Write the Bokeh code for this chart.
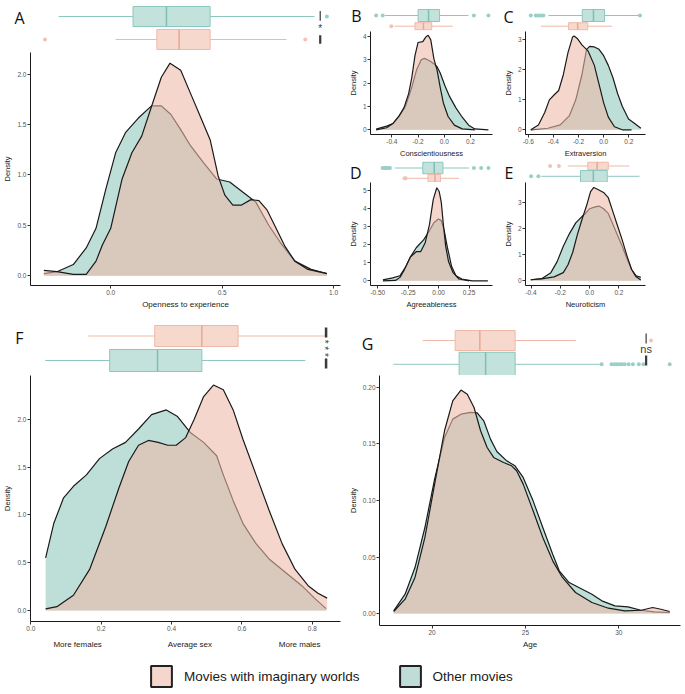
import numpy as np
from bokeh.plotting import figure
from bokeh.layouts import row, column
from bokeh.models import (Range1d, FixedTicker, PrintfTickFormatter,
                          LinearAxis, Legend, LegendItem, ColumnDataSource)
from bokeh.embed import file_html
from bokeh.resources import INLINE
from bokeh.core.properties import value

# ======================= DATA =======================
GROUP_LABELS = ["Movies with imaginary worlds", "Other movies"]

# ---- A: Openness to experience ----
A_pink_x = [-0.300, -0.241, -0.168, -0.110, -0.066, -0.037, 0.000, 0.051, 0.095, 0.139, 0.183, 0.227,
            0.266, 0.314, 0.358, 0.402, 0.446, 0.482, 0.512, 0.548, 0.585, 0.629, 0.665, 0.702,
            0.738, 0.782, 0.826, 0.885, 0.970]
A_pink_y = [0.052, 0.039, 0.013, 0.013, 0.144, 0.307, 0.47, 0.96, 1.22, 1.385, 1.68, 1.97,
            2.11, 2.04, 1.81, 1.58, 1.35, 0.99, 0.80, 0.70, 0.70, 0.755, 0.745, 0.65,
            0.487, 0.29, 0.144, 0.062, 0.02]
A_teal_x = [-0.300, -0.241, -0.168, -0.110, -0.066, -0.022, 0.022, 0.066, 0.124, 0.183, 0.227, 0.270,
            0.314, 0.358, 0.417, 0.475, 0.534, 0.592, 0.651, 0.709, 0.768, 0.826, 0.899, 0.970]
A_teal_y = [0.02, 0.039, 0.11, 0.275, 0.47, 0.86, 1.22, 1.42, 1.565, 1.686, 1.686, 1.60,
            1.45, 1.29, 1.12, 0.96, 0.93, 0.83, 0.73, 0.50, 0.307, 0.144, 0.062, 0.02]
A_pink_box = [0.022, 0.207, 0.307, 0.446, 0.789]     # lower whisker, Q1, median, Q3, upper whisker
A_pink_out = [-0.295, 0.873]
A_teal_box = [-0.234, 0.100, 0.250, 0.446, 0.914]
A_teal_out = [0.970]
A_sig = "*"
A_xticks = [0.0, 0.5, 1.0]
A_yticks = [0.0, 0.5, 1.0, 1.5, 2.0]

# ---- B: Conscientiousness ----
B_pink_x = [-0.520, -0.440, -0.392, -0.344, -0.308, -0.272, -0.248, -0.224, -0.200, -0.164, -0.140,
            -0.123, -0.103, -0.079, -0.055, -0.031, -0.007, 0.029, 0.077, 0.137, 0.233]
B_pink_y = [0.0, 0.09, 0.27, 0.61, 0.94, 1.55, 2.23, 3.17, 3.74, 3.78, 3.98,
            4.05, 3.85, 3.04, 2.56, 1.82, 1.15, 0.57, 0.20, 0.04, 0.0]
B_teal_x = [-0.520, -0.440, -0.392, -0.344, -0.296, -0.248, -0.212, -0.176, -0.152, -0.116, -0.079,
            -0.055, -0.031, 0.005, 0.041, 0.089, 0.137, 0.186, 0.233, 0.337]
B_teal_y = [0.03, 0.16, 0.27, 0.58, 1.01, 1.82, 2.56, 3.0, 3.06, 2.97, 2.83,
            2.70, 2.43, 1.89, 1.42, 0.94, 0.54, 0.20, 0.04, 0.0]
B_pink_box = [-0.380, -0.224, -0.159, -0.096, 0.065]
B_pink_out = [-0.404]
B_teal_box = [-0.453, -0.200, -0.120, -0.036, 0.185]
B_teal_out = [-0.520, -0.470, 0.226, 0.337]
B_xticks = [-0.4, -0.2, 0.0, 0.2]
B_yticks = [0, 1, 2, 3, 4]

# ---- C: Extraversion ----
C_pink_x = [-0.580, -0.519, -0.469, -0.432, -0.395, -0.358, -0.321, -0.284, -0.247, -0.235, -0.210,
            -0.173, -0.123, -0.074, -0.037, 0.000, 0.037, 0.086, 0.148, 0.222]
C_pink_y = [0.0, 0.16, 0.57, 0.99, 1.15, 1.30, 1.82, 2.55, 3.07, 3.10, 3.02,
            2.81, 2.60, 2.13, 1.51, 0.89, 0.42, 0.10, 0.0, 0.0]
C_teal_x = [-0.580, -0.444, -0.346, -0.272, -0.222, -0.173, -0.136, -0.111, -0.074, -0.037, 0.000,
            0.037, 0.074, 0.111, 0.148, 0.198, 0.247, 0.296]
C_teal_y = [0.0, 0.05, 0.16, 0.47, 0.99, 1.82, 2.66, 2.76, 2.74, 2.66, 2.45,
            2.13, 1.72, 1.20, 0.78, 0.36, 0.21, 0.05]
C_pink_box = [-0.500, -0.280, -0.207, -0.126, 0.067]
C_pink_out = []
C_teal_box = [-0.440, -0.170, -0.081, 0.007, 0.280]
C_teal_out = [-0.580, -0.540, -0.520, -0.500, -0.480, 0.289]
C_xticks = [-0.6, -0.4, -0.2, 0.0, 0.2]
C_yticks = [0, 1, 2, 3]

# ---- D: Agreeableness ----
D_pink_x = [-0.458, -0.354, -0.318, -0.281, -0.233, -0.184, -0.148, -0.111, -0.075, -0.044, -0.015,
            0.005, 0.022, 0.039, 0.058, 0.082, 0.119, 0.167, 0.252]
D_pink_y = [0.0, 0.02, 0.19, 0.62, 1.31, 1.61, 1.61, 2.09, 3.12, 4.51, 5.15,
            4.94, 4.34, 3.12, 1.92, 1.05, 0.45, 0.10, 0.0]
D_teal_x = [-0.458, -0.378, -0.318, -0.269, -0.233, -0.184, -0.124, -0.075, -0.039, -0.002, 0.022,
            0.046, 0.070, 0.107, 0.143, 0.191, 0.276, 0.405]
D_teal_y = [0.05, 0.16, 0.28, 0.79, 1.31, 1.83, 2.26, 2.78, 3.21, 3.42, 3.33,
            2.78, 1.92, 0.79, 0.28, 0.10, 0.0, 0.0]
D_pink_box = [-0.250, -0.087, -0.030, 0.015, 0.167]
D_pink_out = [-0.280, -0.270]
D_teal_box = [-0.360, -0.130, -0.036, 0.036, 0.250]
D_teal_out = [-0.460, -0.445, -0.430, -0.415, -0.400, 0.290, 0.350, 0.410]
D_xticks = [-0.50, -0.25, 0.00, 0.25]
D_yticks = [0, 1, 2, 3, 4, 5]

# ---- E: Neuroticism ----
E_pink_x = [-0.402, -0.328, -0.243, -0.180, -0.148, -0.116, -0.085, -0.053, -0.021, 0.006, 0.028,
            0.053, 0.095, 0.127, 0.159, 0.190, 0.222, 0.254, 0.286, 0.317, 0.349]
E_pink_y = [0.04, 0.07, 0.15, 0.31, 0.61, 1.08, 1.74, 2.33, 2.87, 3.40, 3.56,
            3.49, 3.37, 3.17, 2.63, 2.10, 1.56, 0.96, 0.43, 0.15, 0.03]
E_teal_x = [-0.402, -0.328, -0.265, -0.222, -0.180, -0.138, -0.095, -0.053, -0.032, 0.000, 0.032,
            0.063, 0.095, 0.127, 0.159, 0.190, 0.222, 0.254, 0.286, 0.317, 0.349]
E_teal_y = [0.04, 0.08, 0.31, 0.73, 1.32, 1.80, 2.21, 2.45, 2.55, 2.75, 2.81,
            2.85, 2.75, 2.57, 2.15, 1.74, 1.32, 0.85, 0.43, 0.19, 0.13]
E_pink_box = [-0.150, -0.013, 0.051, 0.127, 0.270]
E_pink_out = [-0.270, -0.210]
E_teal_box = [-0.330, -0.063, 0.025, 0.120, 0.340]
E_teal_out = [-0.400, -0.350]
E_xticks = [-0.4, -0.2, 0.0, 0.2]
E_yticks = [0, 1, 2, 3]

# ---- F: Average sex ----
F_pink_x = [0.042, 0.074, 0.121, 0.167, 0.213, 0.250, 0.278, 0.306, 0.334, 0.362, 0.389, 0.413,
            0.440, 0.464, 0.491, 0.519, 0.547, 0.575, 0.603, 0.640, 0.677, 0.714, 0.751, 0.788,
            0.816, 0.842]
F_pink_y = [0.017, 0.04, 0.16, 0.43, 0.88, 1.28, 1.56, 1.73, 1.78, 1.76, 1.73, 1.73,
            1.81, 2.00, 2.24, 2.36, 2.31, 2.10, 1.79, 1.42, 1.05, 0.70, 0.43, 0.26,
            0.18, 0.13]
F_teal_x = [0.042, 0.065, 0.093, 0.121, 0.158, 0.195, 0.232, 0.269, 0.306, 0.343, 0.385, 0.417,
            0.454, 0.491, 0.528, 0.547, 0.575, 0.603, 0.640, 0.677, 0.723, 0.770, 0.806, 0.839]
F_teal_y = [0.55, 0.91, 1.18, 1.30, 1.42, 1.59, 1.69, 1.76, 1.90, 2.05, 2.10, 2.03,
            1.86, 1.76, 1.62, 1.42, 1.15, 0.91, 0.70, 0.54, 0.40, 0.26, 0.13, 0.02]
F_pink_box = [0.163, 0.352, 0.486, 0.589, 0.840]
F_pink_out = []
F_teal_box = [0.041, 0.224, 0.360, 0.486, 0.780]
F_teal_out = []
F_sig = "***"
F_xticks = [0.0, 0.2, 0.4, 0.6, 0.8]
F_yticks = [0.0, 0.5, 1.0, 1.5, 2.0]
F_sex_ticks = [0.133, 0.452, 0.764]
F_sex_labels = ["More females", "Average sex", "More males"]

# ---- G: Age ----
G_pink_x = [17.95, 18.56, 19.09, 19.62, 20.14, 20.67, 21.11, 21.55, 21.89, 22.25, 22.60, 22.95,
            23.30, 23.83, 24.26, 24.53, 24.88, 25.41, 25.93, 26.46, 26.98, 27.68, 28.56, 29.44,
            30.32, 31.19, 31.81, 32.25, 32.72]
G_pink_y = [0.0018, 0.0127, 0.0319, 0.0673, 0.1145, 0.1617, 0.1882, 0.1977, 0.1941, 0.1823, 0.1617, 0.1469,
            0.1381, 0.1336, 0.1307, 0.1263, 0.1145, 0.0909, 0.0673, 0.0466, 0.0319, 0.0186, 0.0097, 0.0047,
            0.0024, 0.0029, 0.0053, 0.0038, 0.0018]
G_teal_x = [17.95, 18.56, 19.09, 19.62, 20.14, 20.67, 21.11, 21.55, 22.07, 22.42, 22.77, 23.13,
            23.47, 24.00, 24.44, 24.88, 25.41, 25.93, 26.46, 26.81, 27.34, 28.04, 28.56, 29.09,
            29.79, 30.49, 31.19, 31.90, 32.72]
G_teal_y = [0.0024, 0.0171, 0.0407, 0.0761, 0.1189, 0.1558, 0.1720, 0.1764, 0.1779, 0.1776, 0.1705, 0.1543,
            0.1434, 0.1351, 0.1307, 0.1204, 0.0997, 0.0761, 0.0525, 0.0378, 0.0274, 0.0215, 0.0171, 0.0112,
            0.0068, 0.0059, 0.0029, 0.0015, 0.0009]
G_pink_box = [19.5, 21.24, 22.56, 24.45, 27.7]
G_pink_out = [31.72]
G_teal_box = [17.93, 21.45, 22.87, 24.45, 28.98]
G_teal_out = [29.08, 29.61, 29.75, 29.89, 30.03, 30.17, 30.31, 30.52, 30.75, 31.07, 31.32, 32.72]
G_sig = "ns"
G_xticks = [20, 25, 30]
G_yticks = [0.00, 0.05, 0.10, 0.15, 0.20]

# ======================= STYLE =======================
FONT = "Liberation Sans"
LETTER_FONT = "Open Sans"
PINK = "#ECB8A7"
PINK_ALPHA = 0.58
TEAL = "#7DBDB1"
TEAL_ALPHA = 0.5
OUTLINE = "#1A1A1A"
PINK_BOX = dict(fill="#F7D8CD", line="#EFB9A9", med="#E8A894", dot="#F2C3B5")
TEAL_BOX = dict(fill="#C3E2DC", line="#8CC8BE", med="#7DBFB4", dot="#9ACFC6")
LEG_PINK = "#F5D6CC"
LEG_TEAL = "#BEDDD7"


def make_density(W, H, xr, yr, L, R, B, xt, xf, yt, yf, xlabel, xlab_size,
                 px, py, tx, ty):
    p = figure(width=W, height=H, x_range=Range1d(*xr), y_range=Range1d(*yr),
               min_border_left=L, min_border_right=R, min_border_bottom=B,
               min_border_top=0, toolbar_location=None, output_backend="svg",
               outline_line_color=None)
    p.grid.visible = False
    p.varea(x=tx, y1=0, y2=ty, fill_color=TEAL, fill_alpha=TEAL_ALPHA)
    p.line(x=tx, y=ty, line_color=OUTLINE, line_width=1.2)
    p.varea(x=px, y1=0, y2=py, fill_color=PINK, fill_alpha=PINK_ALPHA)
    p.line(x=px, y=py, line_color=OUTLINE, line_width=1.2)
    xa = p.xaxis[0]
    ya = p.yaxis[0]
    xa.ticker = FixedTicker(ticks=xt)
    xa.formatter = PrintfTickFormatter(format=xf)
    ya.ticker = FixedTicker(ticks=yt)
    ya.formatter = PrintfTickFormatter(format=yf)
    for ax in (xa, ya):
        ax.axis_line_color = OUTLINE
        ax.axis_line_width = 1
        ax.major_tick_line_color = "#333333"
        ax.major_tick_out = 3
        ax.major_tick_in = 0
        ax.minor_tick_line_color = None
        ax.major_label_text_font = FONT
        ax.major_label_text_font_size = "6.5px"
        ax.major_label_text_color = "#555555"
        ax.major_label_standoff = 1
        ax.axis_label_text_font = FONT
        ax.axis_label_text_font_style = "normal"
        ax.axis_label_text_color = "#1A1A1A"
        ax.axis_label_standoff = 2
    xa.axis_label = xlabel
    xa.axis_label_text_font_size = xlab_size
    ya.axis_label = "Density"
    ya.axis_label_text_font_size = "7.5px"
    return p


def make_box(W, H, xr, c_top, c_bot, top, bottom, letter, standoff, ly, sig=None):
    # the frame of this strip is aligned with the density frame below it
    u = c_bot - c_top
    p = figure(width=W, height=H, x_range=Range1d(*xr),
               y_range=Range1d(1 - (H - c_bot) / u, 2 + c_top / u),
               x_axis_location=None, y_axis_location=None, min_border=0,
               toolbar_location=None, output_backend="svg", outline_line_color=None)
    p.grid.visible = False
    for pos, (stats, outs, hpx, pal) in ((2, top), (1, bottom)):
        h = hpx / u
        lo, q1, med, q3, hi = stats
        p.segment(x0=[lo, q3], y0=[pos, pos], x1=[q1, hi], y1=[pos, pos],
                  line_color=pal["line"], line_width=1)
        p.hbar(y=[pos], height=h, left=[q1], right=[q3], fill_color=pal["fill"],
               line_color=pal["line"], line_width=1)
        p.segment(x0=[med], y0=[pos - h / 2], x1=[med], y1=[pos + h / 2],
                  line_color=pal["med"], line_width=1.5)
        if outs:
            p.scatter(x=outs, y=[pos] * len(outs), size=4, fill_color=pal["dot"],
                      line_color=None)
    if sig is not None:
        sx, bars, txt, ty, ang, fs = sig
        for (y0, y1, lw) in bars:
            p.segment(x0=[sx], y0=[y0], x1=[sx], y1=[y1], line_color="#3A3A3A",
                      line_width=lw)
        rotated = ang != 0
        shown = " ".join(txt) if rotated else txt
        p.text(x=[sx], y=[ty], text=[shown], angle=ang, text_align="center",
               text_baseline="middle", text_font=value(FONT), text_font_size=fs,
               text_color="#3A3A3A", x_offset=-2 if rotated else 0)
    # panel letter shown as the single label of a bare left axis
    yl = 2 - (ly - c_top) / u
    lax = LinearAxis(ticker=FixedTicker(ticks=[yl]), major_label_overrides={yl: letter},
                     axis_line_color=None, major_tick_line_color=None,
                     minor_tick_line_color=None, major_label_standoff=standoff,
                     major_label_text_font=LETTER_FONT, major_label_text_font_size="16px",
                     major_label_text_color="#111111")
    p.add_layout(lax, "left")
    return p


# ======================= LAYOUT =======================
# ---- A ----
WA = 345
A_xr = (-0.36, 1.031)
A_box = make_box(WA, 52, A_xr, 16, 39,
                 (A_teal_box, A_teal_out, 20, TEAL_BOX),
                 (A_pink_box, A_pink_out, 20, PINK_BOX),
                 "A", 0, 17,
                 sig=(0.94, [(2.24, 1.82, 1.2), (1.18, 0.82, 2.2)], A_sig, 1.5, 0, "10px"))
A_den = make_density(WA, 259, A_xr, (-0.098, 2.216), 25, 5, 23, A_xticks, "%.1f",
                     A_yticks, "%.1f", "Openness to experience", "8px",
                     A_pink_x, A_pink_y, A_teal_x, A_teal_y)

# ---- B ----
WB = 155
B_xr = (-0.563, 0.368)
B_box = make_box(WB, 31, B_xr, 15, 25.7,
                 (B_teal_box, B_teal_out, 12, TEAL_BOX),
                 (B_pink_box, B_pink_out, 7, PINK_BOX), "B", 3, 15)
B_den = make_density(WB, 129, B_xr, (-0.2, 4.21), 20, 8, 20, B_xticks, "%.1f",
                     B_yticks, "%d", "Conscientiousness", "7.5px",
                     B_pink_x, B_pink_y, B_teal_x, B_teal_y)

# ---- C ----
WC = 185
C_xr = (-0.622, 0.333)
C_box = make_box(WC, 31, C_xr, 15, 25.7,
                 (C_teal_box, C_teal_out, 12, TEAL_BOX),
                 (C_pink_box, C_pink_out, 7, PINK_BOX), "C", 6, 16)
C_den = make_density(WC, 129, C_xr, (-0.156, 3.25), 20, 40, 20, C_xticks, "%.1f",
                     C_yticks, "%d", "Extraversion", "7.5px",
                     C_pink_x, C_pink_y, C_teal_x, C_teal_y)

# ---- D ----
D_xr = (-0.56, 0.443)
D_box = make_box(WB, 22, D_xr, 7.5, 17.8,
                 (D_teal_box, D_teal_out, 11.5, TEAL_BOX),
                 (D_pink_box, D_pink_out, 7.5, PINK_BOX), "D", 3, 10)
D_den = make_density(WB, 129, D_xr, (-0.26, 5.44), 20, 8, 19, D_xticks, "%.2f",
                     D_yticks, "%d", "Agreeableness", "7.5px",
                     D_pink_x, D_pink_y, D_teal_x, D_teal_y)

# ---- E ----
E_xr = (-0.438, 0.381)
E_box = make_box(WC, 22, E_xr, 5.5, 15.8,
                 (E_pink_box, E_pink_out, 7.5, PINK_BOX),
                 (E_teal_box, E_teal_out, 11.5, TEAL_BOX), "E", 6, 10)
E_den = make_density(WC, 129, E_xr, (-0.18, 3.75), 20, 40, 19, E_xticks, "%.1f",
                     E_yticks, "%d", "Neuroticism", "7.5px",
                     E_pink_x, E_pink_y, E_teal_x, E_teal_y)

# ---- F ----
WF = 345
F_xr = (-0.001, 0.88)
F_box = make_box(WF, 64, F_xr, 24.5, 49,
                 (F_pink_box, F_pink_out, 21, PINK_BOX),
                 (F_teal_box, F_teal_out, 22, TEAL_BOX), "F", 1, 26,
                 sig=(0.839, [(2.35, 1.94, 2.5), (1.08, 0.67, 2.5)], F_sig, 1.5,
                      -np.pi / 2, "10px"))
F_den = make_density(WF, 276, F_xr, (-0.115, 2.46), 25, 5, 24, F_xticks, "%.1f",
                     F_yticks, "%.1f", None, "8px",
                     F_pink_x, F_pink_y, F_teal_x, F_teal_y)
sex_axis = LinearAxis(ticker=FixedTicker(ticks=F_sex_ticks),
                      major_label_overrides={k: v for k, v in zip(F_sex_ticks, F_sex_labels)},
                      axis_line_color=None, major_tick_line_color=None,
                      minor_tick_line_color=None, major_label_standoff=0,
                      major_label_text_font=FONT, major_label_text_font_size="8px",
                      major_label_text_color="#1A1A1A")
F_den.add_layout(sex_axis, "below")

# ---- G ----
WG = 340
G_xr = (17.19, 33.3)
G_box = make_box(WG, 64, G_xr, 29, 52.8,
                 (G_pink_box, G_pink_out, 20, PINK_BOX),
                 (G_teal_box, G_teal_out, 24, TEAL_BOX), "G", 0, 32,
                 sig=(31.46, [(2.29, 1.87, 1.2), (1.37, 0.95, 2.2)], G_sig, 1.66, 0, "11px"))
G_den = make_density(WG, 276, G_xr, (-0.0106, 0.2106), 29, 5, 24, G_xticks, "%d",
                     G_yticks, "%.2f", "Age", "8px",
                     G_pink_x, G_pink_y, G_teal_x, G_teal_y)

# ---- Legend ----
leg = figure(width=685, height=43, x_range=Range1d(0, 1), y_range=Range1d(0, 1),
             x_axis_location=None, y_axis_location=None, min_border=0,
             toolbar_location=None, output_backend="svg", outline_line_color=None)
leg.grid.visible = False
nan_src = dict(left=[np.nan], right=[np.nan], top=[np.nan], bottom=[np.nan])
r_pink = leg.quad(source=ColumnDataSource(dict(nan_src)), left="left", right="right",
                  top="top", bottom="bottom", fill_color=LEG_PINK, line_color="#222222",
                  line_width=2)
r_teal = leg.quad(source=ColumnDataSource(dict(nan_src)), left="left", right="right",
                  top="top", bottom="bottom", fill_color=LEG_TEAL, line_color="#222222",
                  line_width=2)
legend = Legend(items=[LegendItem(label=GROUP_LABELS[0], renderers=[r_pink]),
                       LegendItem(label=GROUP_LABELS[1], renderers=[r_teal])],
                location=(148, 5), orientation="horizontal", glyph_width=26,
                glyph_height=26, label_standoff=10, spacing=37, padding=0, margin=0,
                border_line_color=None, background_fill_alpha=0,
                label_text_font=FONT, label_text_font_size="13.5px",
                label_text_color="#1A1A1A")
leg.add_layout(legend, "center")

top_left = column(A_box, A_den, spacing=0)
top_right = column(
    row(column(B_box, B_den, spacing=0), column(C_box, C_den, spacing=0), spacing=0),
    row(column(D_box, D_den, spacing=0), column(E_box, E_den, spacing=0), spacing=0),
    spacing=0)
top = row(top_left, top_right, spacing=0)
bottom = row(column(F_box, F_den, spacing=0), column(G_box, G_den, spacing=0), spacing=0)
root = column(top, bottom, leg, spacing=0)

open("out.html", "w").write(file_html(root, INLINE))
